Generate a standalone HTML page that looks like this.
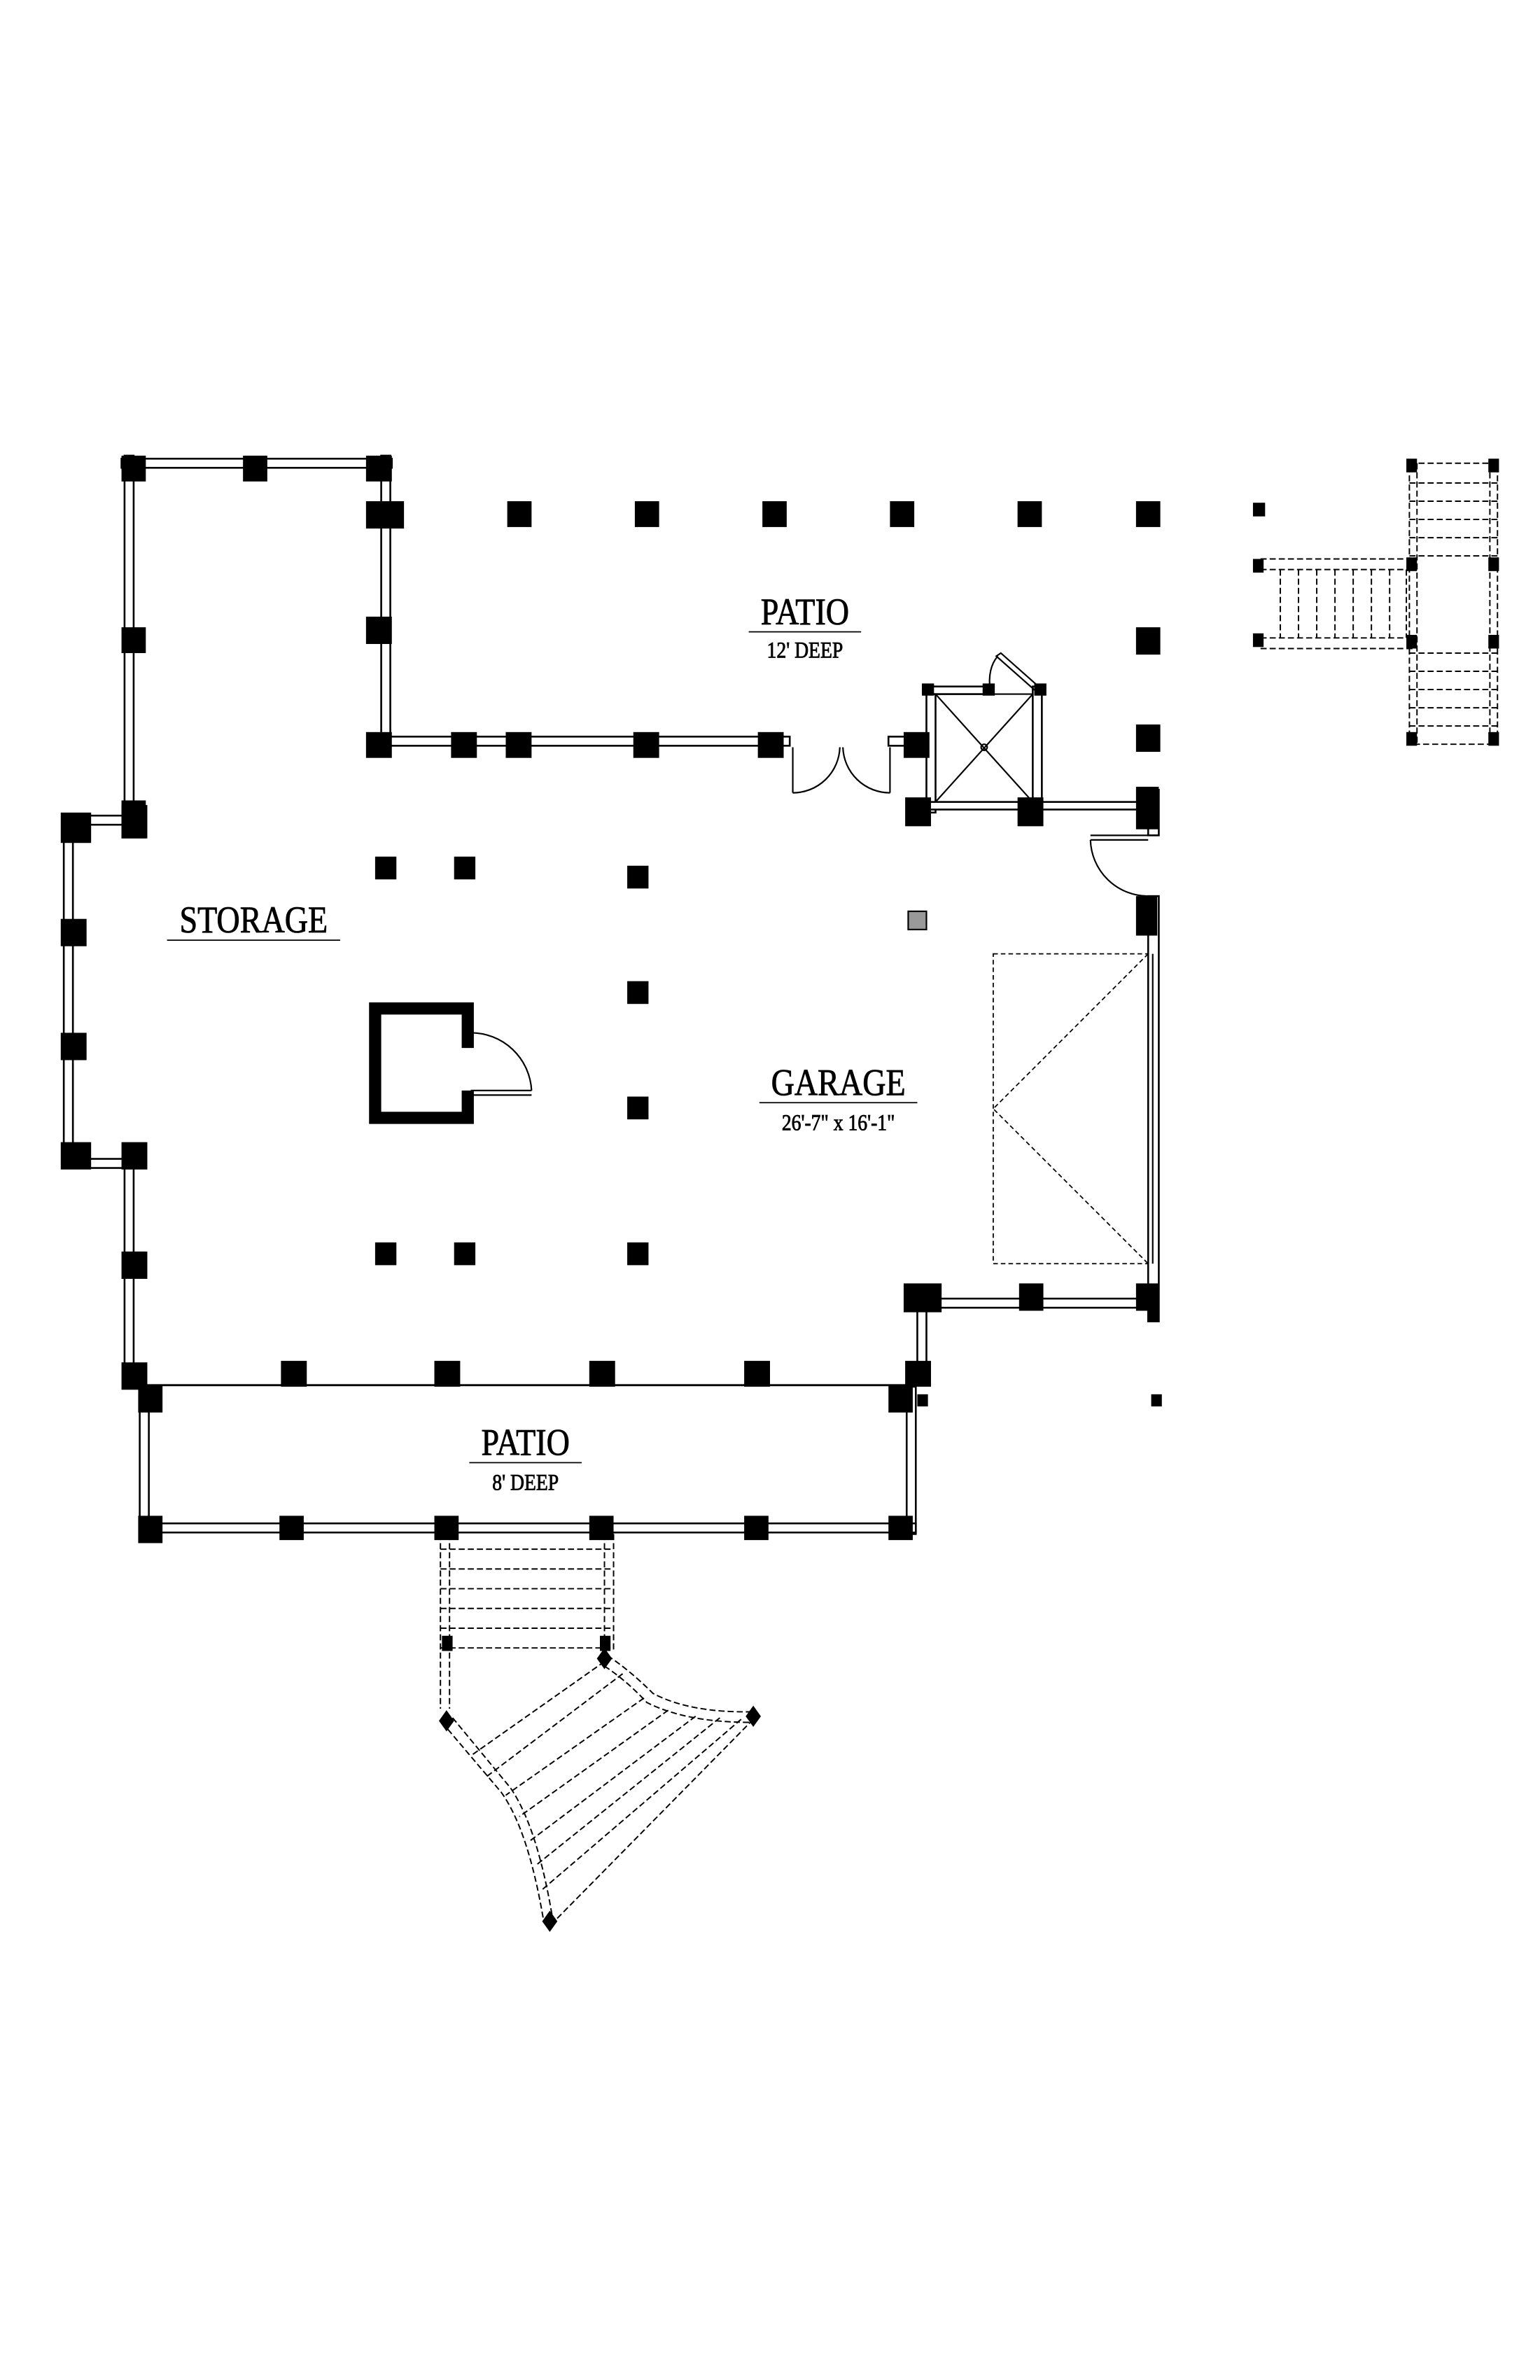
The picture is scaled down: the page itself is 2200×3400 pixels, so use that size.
<!DOCTYPE html>
<html><head><meta charset="utf-8"><style>
html,body{margin:0;padding:0;background:#fff}
svg{display:block}
text{font-family:"Liberation Serif",serif;fill:#000}
</style></head><body>
<svg width="2200" height="3400" viewBox="0 0 1014 1567" preserveAspectRatio="none" xmlns="http://www.w3.org/2000/svg">
<rect width="1024" height="1583" fill="#fff"/>
<g fill="#fff" stroke="#000" stroke-width="1.2">
<rect x="80" y="302" width="178" height="6"/>
<rect x="82" y="300" width="6" height="240"/>
<rect x="251" y="300" width="6" height="190"/>
<rect x="250" y="485" width="270" height="6"/>
<rect x="585" y="485" width="25" height="6"/>
<rect x="42" y="537" width="46" height="6"/>
<rect x="42" y="537" width="6" height="231"/>
<rect x="42" y="763" width="46" height="6"/>
<rect x="82" y="768" width="6" height="144"/>
<rect x="92" y="913" width="6" height="97"/>
<rect x="597" y="913" width="6" height="97"/>
<rect x="92" y="1003" width="511" height="6"/>
<rect x="604" y="853" width="6" height="59"/>
<rect x="606" y="855" width="154" height="6"/>
<rect x="756" y="520" width="7" height="30"/>
<rect x="756" y="590" width="7" height="280"/>
<rect x="610" y="452" width="6" height="83"/>
<rect x="680" y="452" width="6" height="83"/>
<rect x="610" y="452" width="40" height="5"/>
<rect x="610" y="528" width="146" height="5"/>
</g>
<line x1="90" y1="912" x2="604" y2="912" stroke="#000" stroke-width="1.3"/>
<g stroke="#000" stroke-width="1" fill="none">
<line x1="616" y1="457" x2="680" y2="528"/><line x1="680" y1="457" x2="616" y2="528"/>
<circle cx="648" cy="492" r="2"/>
<line x1="616" y1="457" x2="680" y2="457"/>
<path d="M682,455 L656,432 L659,430 L685,453"/>
<path d="M657,432 Q650,440 652,455"/>
<line x1="522" y1="492" x2="522" y2="522"/><path d="M522,522 A31,31 0 0 0 553,492"/>
<line x1="586" y1="492" x2="586" y2="522"/><path d="M586,522 A31,31 0 0 1 555,492"/>
<line x1="718" y1="550" x2="756" y2="550"/><line x1="718" y1="553" x2="756" y2="553"/>
<path d="M718,553 A38,38 0 0 0 756,590"/>
<rect x="654" y="628" width="102" height="204" stroke-dasharray="3,2" stroke-width="0.8"/>
<polyline points="756,628 654,730 756,832" stroke-dasharray="3,2" stroke-width="0.8"/>
<line x1="759" y1="628" x2="759" y2="832"/>
<path d="M308,690 L308,664 L247,664 L247,736 L308,736 L308,718" stroke-width="8"/>
<line x1="310" y1="718" x2="350" y2="718"/><line x1="310" y1="721" x2="350" y2="721"/>
<path d="M310,680 A40,40 0 0 1 350,718"/>
</g>
<g fill="#000">
<rect x="80" y="300" width="16" height="17"/><rect x="160" y="300" width="16" height="17"/><rect x="241" y="300" width="17" height="17"/>
<rect x="241" y="330" width="25" height="18"/><rect x="241" y="406" width="17" height="18"/>
<rect x="80" y="413" width="16" height="17"/><rect x="80" y="527" width="16" height="25"/>
<rect x="334" y="330" width="16" height="17"/><rect x="418" y="330" width="16" height="17"/><rect x="502" y="330" width="16" height="17"/><rect x="586" y="330" width="16" height="17"/><rect x="670" y="330" width="16" height="17"/><rect x="748" y="330" width="16" height="17"/>
<rect x="825" y="331" width="8" height="9"/>
<rect x="748" y="413" width="16" height="18"/><rect x="748" y="477" width="16" height="18"/><rect x="748" y="518" width="15" height="28"/>
<rect x="241" y="482" width="17" height="17"/><rect x="297" y="482" width="17" height="17"/><rect x="333" y="482" width="17" height="17"/><rect x="417" y="482" width="17" height="17"/><rect x="499" y="482" width="17" height="17"/><rect x="595" y="482" width="17" height="17"/>
<rect x="607" y="450" width="8" height="8"/><rect x="681" y="450" width="8" height="8"/><rect x="647" y="450" width="8" height="8"/>
<rect x="596" y="525" width="17" height="19"/><rect x="670" y="525" width="17" height="19"/>
<rect x="40" y="535" width="20" height="20"/><rect x="80" y="530" width="17" height="22"/>
<rect x="40" y="605" width="17" height="18"/><rect x="40" y="680" width="17" height="18"/>
<rect x="40" y="752" width="20" height="18"/><rect x="80" y="752" width="17" height="18"/>
<rect x="80" y="824" width="17" height="18"/><rect x="80" y="897" width="17" height="18"/>
<rect x="185" y="896" width="17" height="17"/><rect x="286" y="896" width="17" height="17"/><rect x="388" y="896" width="17" height="17"/><rect x="490" y="896" width="17" height="17"/><rect x="596" y="896" width="17" height="17"/>
<rect x="91" y="912" width="16" height="18"/><rect x="585" y="912" width="16" height="18"/>
<rect x="91" y="998" width="16" height="18"/><rect x="184" y="998" width="16" height="16"/><rect x="286" y="998" width="16" height="16"/><rect x="388" y="998" width="16" height="16"/><rect x="490" y="998" width="16" height="16"/><rect x="585" y="998" width="16" height="16"/>
<rect x="595" y="845" width="25" height="19"/><rect x="671" y="845" width="16" height="18"/><rect x="748" y="845" width="15" height="18"/>
<rect x="748" y="590" width="14" height="26"/><rect x="756" y="860" width="7" height="10"/>
<rect x="604" y="918" width="7" height="8"/><rect x="758" y="918" width="7" height="8"/>
<rect x="247" y="564" width="14" height="15"/><rect x="299" y="564" width="14" height="15"/><rect x="413" y="570" width="14" height="15"/><rect x="413" y="646" width="14" height="15"/><rect x="413" y="722" width="14" height="15"/><rect x="247" y="818" width="14" height="15"/><rect x="299" y="818" width="14" height="15"/><rect x="413" y="818" width="14" height="15"/>
</g>
<rect x="598" y="600" width="12" height="12" fill="#999" stroke="#000" stroke-width="1"/>
<g stroke="#000" stroke-width="0.9" fill="none" stroke-dasharray="4,2">
<rect x="928" y="305" width="58" height="185"/>
<line x1="933" y1="305" x2="933" y2="490"/><line x1="981" y1="305" x2="981" y2="490"/>
<line x1="928" y1="318" x2="986" y2="318"/><line x1="928" y1="330" x2="986" y2="330"/><line x1="928" y1="342" x2="986" y2="342"/><line x1="928" y1="354" x2="986" y2="354"/><line x1="928" y1="366" x2="986" y2="366"/>
<line x1="928" y1="430" x2="986" y2="430"/><line x1="928" y1="442" x2="986" y2="442"/><line x1="928" y1="454" x2="986" y2="454"/><line x1="928" y1="466" x2="986" y2="466"/><line x1="928" y1="478" x2="986" y2="478"/>
<line x1="830" y1="368" x2="930" y2="368"/><line x1="830" y1="375" x2="930" y2="375"/>
<line x1="830" y1="420" x2="930" y2="420"/><line x1="830" y1="427" x2="930" y2="427"/>
<line x1="843" y1="375" x2="843" y2="420"/><line x1="855" y1="375" x2="855" y2="420"/><line x1="867" y1="375" x2="867" y2="420"/><line x1="879" y1="375" x2="879" y2="420"/><line x1="891" y1="375" x2="891" y2="420"/><line x1="903" y1="375" x2="903" y2="420"/><line x1="915" y1="375" x2="915" y2="420"/><line x1="926" y1="375" x2="926" y2="420"/>
</g>
<g fill="#000">
<rect x="926" y="302" width="7" height="9"/><rect x="980" y="302" width="7" height="9"/><rect x="926" y="367" width="7" height="9"/><rect x="980" y="367" width="7" height="9"/><rect x="926" y="418" width="7" height="9"/><rect x="980" y="418" width="7" height="9"/><rect x="926" y="482" width="7" height="9"/><rect x="980" y="482" width="7" height="9"/>
<rect x="825" y="368" width="7" height="9"/><rect x="825" y="417" width="7" height="9"/>
</g>
<g stroke="#000" stroke-width="0.9" fill="none" stroke-dasharray="4,2">
<line x1="290" y1="1010" x2="290" y2="1125"/><line x1="296" y1="1010" x2="296" y2="1125"/>
<line x1="398" y1="1010" x2="398" y2="1088"/><line x1="404" y1="1010" x2="404" y2="1088"/>
<line x1="290" y1="1020" x2="404" y2="1020"/><line x1="290" y1="1033" x2="404" y2="1033"/><line x1="290" y1="1046" x2="404" y2="1046"/><line x1="290" y1="1059" x2="404" y2="1059"/><line x1="290" y1="1072" x2="404" y2="1072"/><line x1="290" y1="1085" x2="404" y2="1085"/>
<path d="M291,1134 L330,1180 Q348,1205 358,1265"/><path d="M298,1131 L336,1177 Q354,1203 364,1264"/>
<path d="M400,1090 Q415,1100 430,1115 Q455,1128 496,1127"/><path d="M398,1097 Q412,1106 426,1121 Q452,1134 494,1134"/>
<line x1="496" y1="1132" x2="364" y2="1266"/>
<line x1="398" y1="1094" x2="310" y2="1156"/>
<line x1="410" y1="1102" x2="320" y2="1170"/>
<line x1="424" y1="1118" x2="333" y2="1182"/>
<line x1="440" y1="1126" x2="342" y2="1196"/>
<line x1="458" y1="1130" x2="349" y2="1212"/>
<line x1="474" y1="1131" x2="353" y2="1228"/>
<line x1="488" y1="1132" x2="356" y2="1245"/>
</g>
<g fill="#000">
<rect x="291" y="1077" width="7" height="10"/><rect x="395" y="1077" width="7" height="10"/>
<polygon points="294,1126 299,1133 294,1140 289,1133"/>
<polygon points="398,1085 403,1092 398,1099 393,1092"/>
<polygon points="496,1123 501,1130 496,1137 491,1130"/>
<polygon points="362,1258 367,1265 362,1272 357,1265"/>
</g>
<g text-anchor="middle" stroke="#000" stroke-width="0.4">
<text x="530" y="411" font-size="25" transform="translate(530 0) scale(0.85 1) translate(-530 0)">PATIO</text>
<text x="530" y="433" font-size="15" transform="translate(530 0) scale(0.85 1) translate(-530 0)">12' DEEP</text>
<text x="167" y="614" font-size="25" transform="translate(167 0) scale(0.85 1) translate(-167 0)">STORAGE</text>
<text x="552" y="721" font-size="25" transform="translate(552 0) scale(0.85 1) translate(-552 0)">GARAGE</text>
<text x="552" y="744" font-size="15" transform="translate(552 0) scale(0.85 1) translate(-552 0)">26'-7" x 16'-1"</text>
<text x="346" y="958" font-size="25" transform="translate(346 0) scale(0.85 1) translate(-346 0)">PATIO</text>
<text x="346" y="981" font-size="15" transform="translate(346 0) scale(0.85 1) translate(-346 0)">8' DEEP</text>
</g>
<g stroke="#000" stroke-width="0.8">
<line x1="493" y1="416" x2="567" y2="416"/>
<line x1="110" y1="619" x2="224" y2="619"/>
<line x1="500" y1="726" x2="604" y2="726"/>
<line x1="309" y1="963" x2="383" y2="963"/>
</g>
</svg>
</body></html>
